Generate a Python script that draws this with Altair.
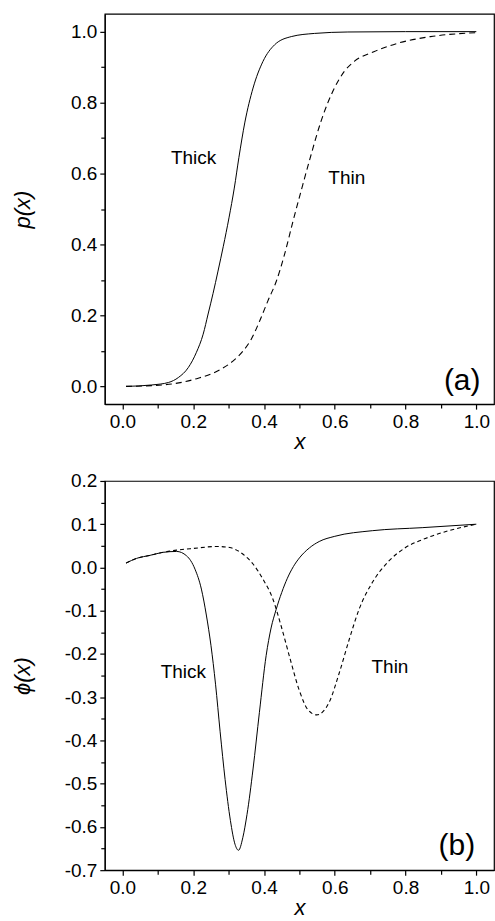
import altair as alt
import pandas as pd

# ---------------- Panel (a): p(x) ----------------
xa_thick = [0.01, 0.083, 0.13, 0.158, 0.186, 0.209, 0.228, 0.242, 0.256, 0.27, 0.285,
            0.301, 0.316, 0.329, 0.346, 0.369, 0.397, 0.43, 0.477, 0.543, 0.637, 0.8, 1.0]
pa_thick = [0.0, 0.004, 0.011, 0.025, 0.053, 0.096, 0.147, 0.204, 0.262, 0.325, 0.395,
            0.475, 0.559, 0.645, 0.745, 0.841, 0.916, 0.963, 0.986, 0.995, 0.999, 1.0, 1.0]
xa_thin = [0.01, 0.054, 0.148, 0.214, 0.27, 0.313, 0.341, 0.364, 0.388, 0.411, 0.435,
           0.458, 0.482, 0.507, 0.533, 0.561, 0.599, 0.627, 0.655, 0.712, 0.777, 0.871, 1.0]
pa_thin = [0.0, 0.001, 0.008, 0.023, 0.044, 0.072, 0.1, 0.133, 0.185, 0.241, 0.297,
           0.372, 0.466, 0.559, 0.653, 0.747, 0.841, 0.888, 0.916, 0.944, 0.967, 0.986, 0.997]

# ---------------- Panel (b): phi(x) ----------------
xb_thick = [0.01, 0.04, 0.078, 0.115, 0.153, 0.181, 0.205, 0.223, 0.237, 0.25, 0.263, 0.276,
            0.29, 0.305, 0.318, 0.328, 0.34, 0.352, 0.369, 0.387, 0.406, 0.42, 0.434, 0.45,
            0.466, 0.483, 0.5, 0.528, 0.556, 0.6, 0.706, 0.847, 1.0]
phib_thick = [0.01, 0.021, 0.028, 0.035, 0.037, 0.027, -0.004, -0.05, -0.11, -0.18, -0.27,
              -0.38, -0.49, -0.585, -0.64, -0.654, -0.625, -0.571, -0.466, -0.335, -0.204,
              -0.14, -0.098, -0.058, -0.025, 0.002, 0.022, 0.045, 0.06, 0.072, 0.085, 0.092, 0.1]
xb_thin = [0.01, 0.04, 0.078, 0.115, 0.153, 0.2, 0.266, 0.303, 0.34, 0.369, 0.397, 0.425,
           0.45, 0.475, 0.5, 0.525, 0.549, 0.584, 0.613, 0.641, 0.669, 0.706, 0.753, 0.8,
           0.856, 0.922, 1.0]
phib_thin = [0.01, 0.021, 0.028, 0.035, 0.04, 0.044, 0.0485, 0.046, 0.031, 0.008, -0.027,
             -0.073, -0.14, -0.215, -0.285, -0.33, -0.341, -0.312, -0.243, -0.166, -0.096,
             -0.035, 0.015, 0.046, 0.067, 0.085, 0.1]

# ---------------- Ticks ----------------
x_major = [0.0, 0.2, 0.4, 0.6, 0.8, 1.0]
x_minor = [0.1, 0.3, 0.5, 0.7, 0.9]
ya_major = [0.0, 0.2, 0.4, 0.6, 0.8, 1.0]
ya_minor = [0.1, 0.3, 0.5, 0.7, 0.9]
yb_major = [0.2, 0.1, 0.0, -0.1, -0.2, -0.3, -0.4, -0.5, -0.6, -0.7]
yb_minor = [0.15, 0.05, -0.05, -0.15, -0.25, -0.35, -0.45, -0.55, -0.65]

# ---------------- Annotations ----------------
labels_a = ["Thick", "Thin"]
labels_a_x = [0.201, 0.634]
labels_a_y = [0.643, 0.587]
labels_b = ["Thick", "Thin"]
labels_b_x = [0.172, 0.756]
labels_b_y = [-0.242, -0.230]
panel_a = ["(a)"]
panel_a_x = [0.96]
panel_a_y = [0.016]
panel_b = ["(b)"]
panel_b_x = [0.945]
panel_b_y = [-0.645]

FONT = "Liberation Sans"
LABEL_EXPR = "replace(format(datum.value, '.1f'), '\u2212', '-')"


def panel(x_thick, y_thick, x_thin, y_thin, ydom, ymaj, ymin, ytitle, dash,
          lab, lab_x, lab_y, pl, pl_x, pl_y, w, h):
    xscale = alt.Scale(domain=[-0.05, 1.05], nice=False, zero=False)
    yscale = alt.Scale(domain=ydom, nice=False, zero=False)
    xaxis = alt.Axis(values=x_major, labelExpr=LABEL_EXPR, title="x", orient="bottom",
                     titleFontStyle="italic", titleFontWeight="normal", titleFontSize=22,
                     titlePadding=0, grid=False)
    yaxis = alt.Axis(values=ymaj, labelExpr=LABEL_EXPR, title=ytitle, orient="left",
                     titleFontStyle="italic", titleFontWeight="normal", titleFontSize=22,
                     titleX=-82, titleBaseline="middle", grid=False)
    d_thick = pd.DataFrame({"x": x_thick, "y": y_thick})
    d_thin = pd.DataFrame({"x": x_thin, "y": y_thin})
    thick = alt.Chart(d_thick).mark_line(color="black", strokeWidth=1, interpolate="monotone").encode(
        x=alt.X("x:Q", scale=xscale, axis=xaxis),
        y=alt.Y("y:Q", scale=yscale, axis=yaxis),
    )
    thin = alt.Chart(d_thin).mark_line(color="black", strokeWidth=1.1, interpolate="monotone",
                                      strokeDash=dash).encode(
        x=alt.X("x:Q", scale=xscale, axis=None),
        y=alt.Y("y:Q", scale=yscale, axis=None),
    )
    minor = alt.Chart(d_thick).mark_point(opacity=0).encode(
        x=alt.X("x:Q", scale=xscale,
                axis=alt.Axis(values=x_minor, labels=False, domain=False, title=None,
                              orient="bottom", tickSize=4, grid=False)),
        y=alt.Y("y:Q", scale=yscale,
                axis=alt.Axis(values=ymin, labels=False, domain=False, title=None,
                              orient="left", tickSize=4, grid=False)),
    )
    d_lab = pd.DataFrame({"x": lab_x, "y": lab_y, "t": lab})
    text = alt.Chart(d_lab).mark_text(font=FONT, fontSize=19, color="black").encode(
        x=alt.X("x:Q", scale=xscale, axis=None), y=alt.Y("y:Q", scale=yscale, axis=None),
        text="t:N")
    d_pl = pd.DataFrame({"x": pl_x, "y": pl_y, "t": pl})
    ptext = alt.Chart(d_pl).mark_text(font=FONT, fontSize=30, color="black").encode(
        x=alt.X("x:Q", scale=xscale, axis=None), y=alt.Y("y:Q", scale=yscale, axis=None),
        text="t:N")
    return alt.layer(minor, thin, thick, text, ptext).resolve_scale(
        x="shared", y="shared").resolve_axis(x="independent", y="independent").properties(
        width=w, height=h)


top = panel(xa_thick, pa_thick, xa_thin, pa_thin, [-0.05, 1.05], ya_major, ya_minor, "p(x)",
            [6, 4], labels_a, labels_a_x, labels_a_y, panel_a, panel_a_x, panel_a_y, 390, 391)
bottom = panel(xb_thick, phib_thick, xb_thin, phib_thin, [-0.7, 0.2], yb_major, yb_minor, "\u03d5(x)",
               [4, 3], labels_b, labels_b_x, labels_b_y, panel_b, panel_b_x, panel_b_y, 390, 390)

chart = alt.vconcat(top, bottom, spacing=18).properties(
    padding={"left": 11, "top": 12, "right": 0, "bottom": 0},
    background="white",
).configure_view(
    stroke="black", strokeWidth=1.2
).configure_axis(
    labelFont=FONT, titleFont=FONT, labelFontSize=19, labelColor="black",
    titleColor="black", domainColor="black", tickColor="black", tickSize=5,
    domainWidth=1.2, tickWidth=1.2, labelPadding=3,
)

chart.save("out.html", embed_options={"renderer": "svg", "actions": False})
